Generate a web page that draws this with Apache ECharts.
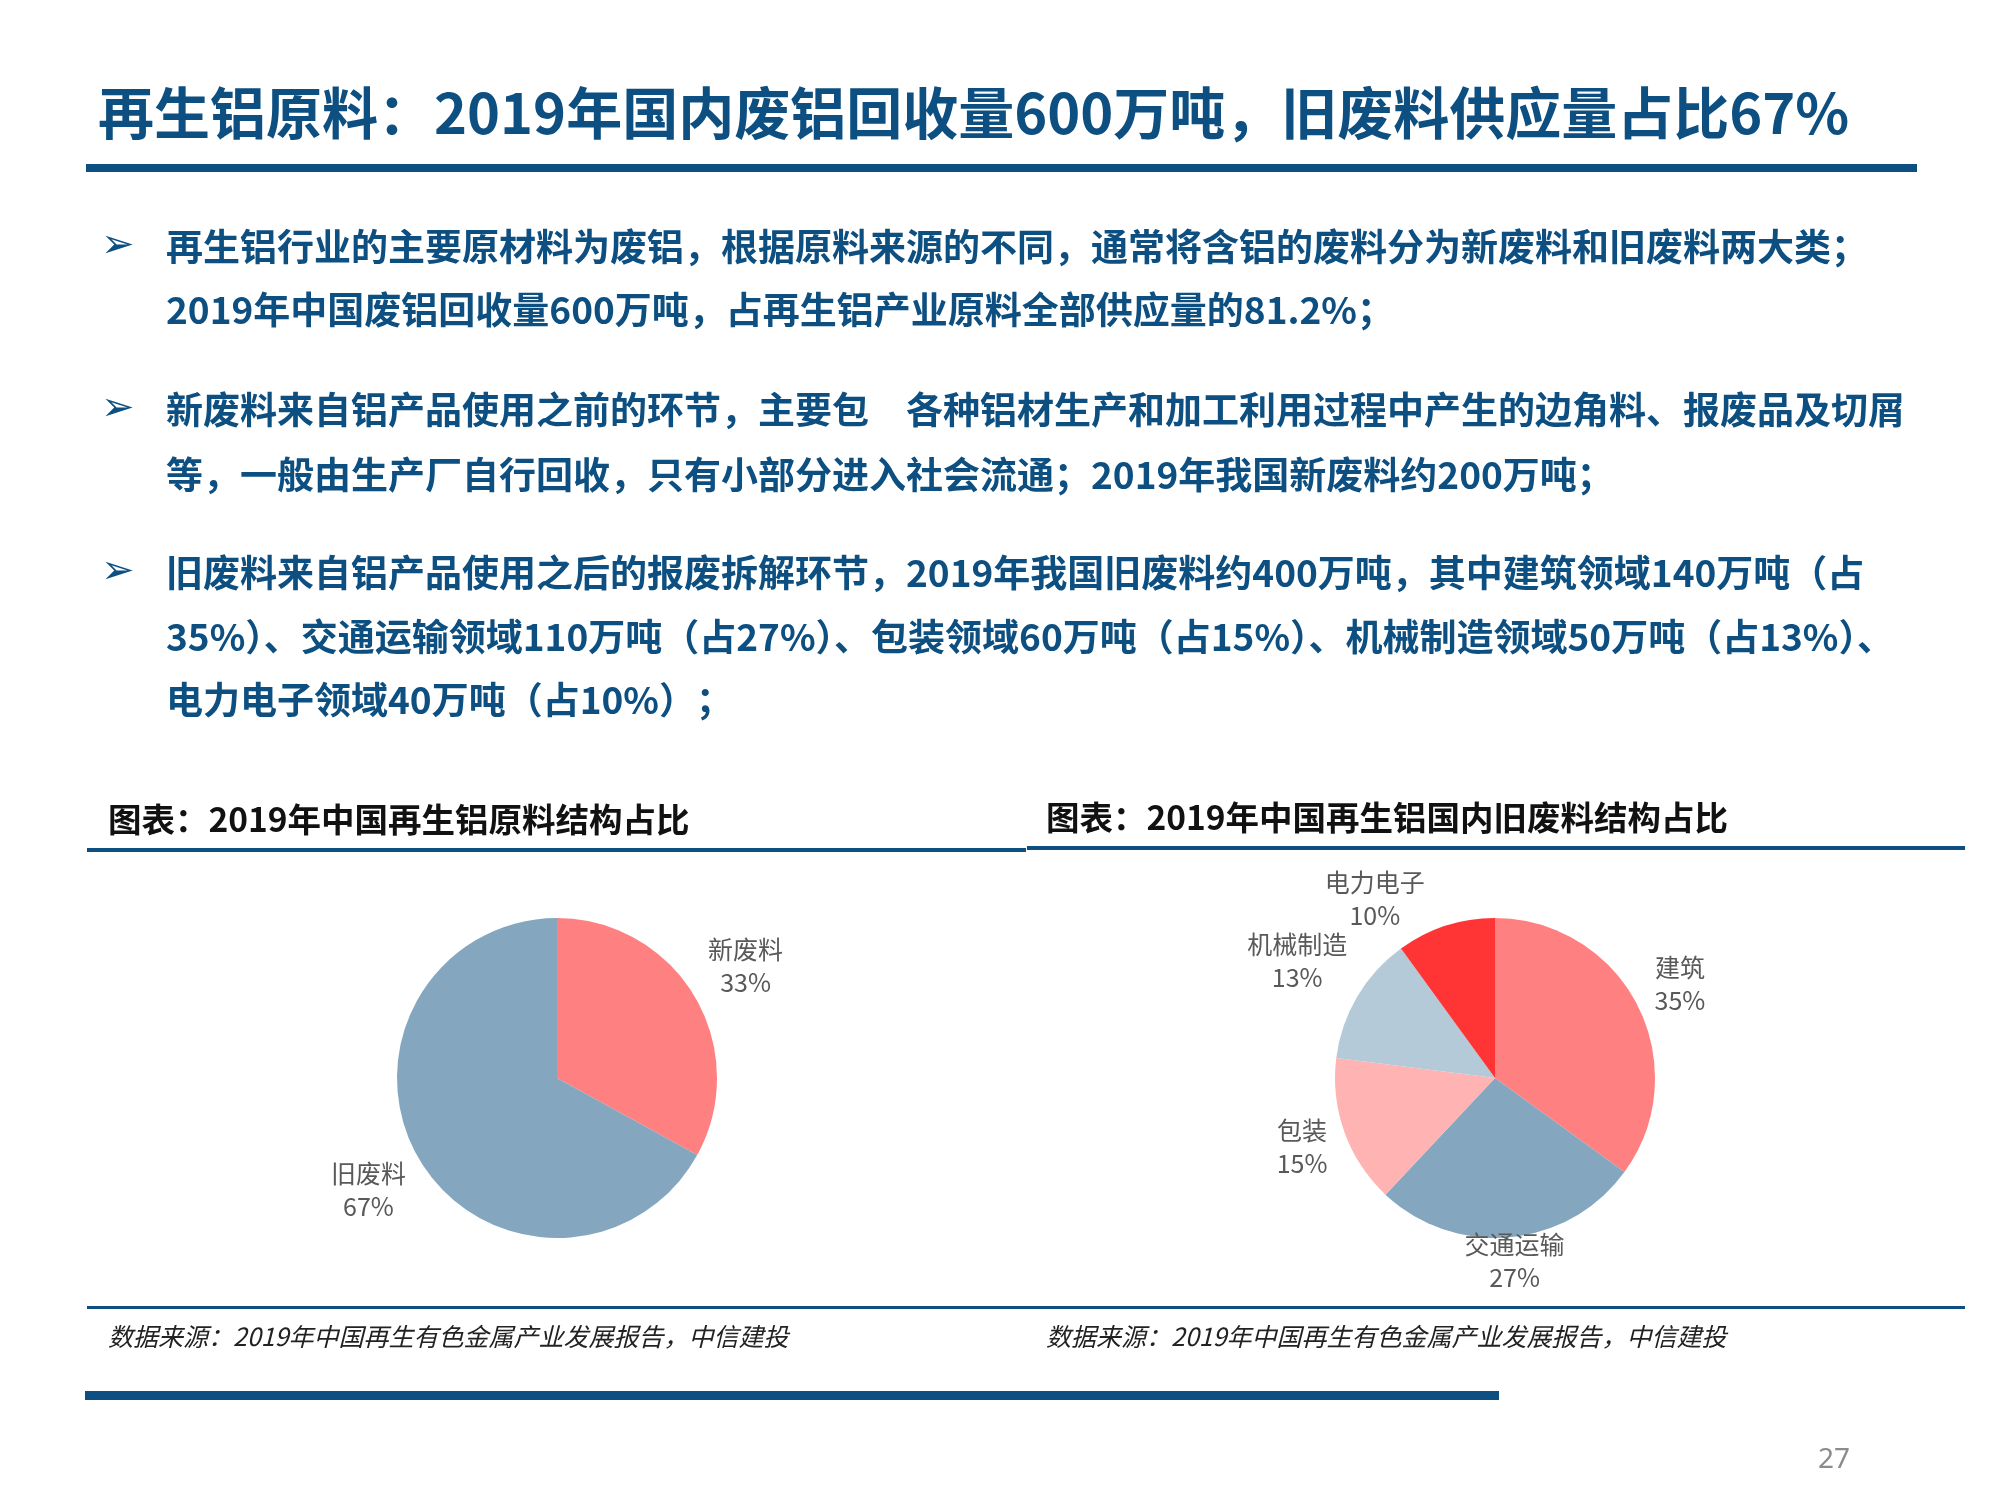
<!DOCTYPE html>
<html>
<head>
<meta charset="utf-8">
<script src="https://cdn.jsdelivr.net/npm/echarts@6/dist/echarts.min.js"></script>
<style>
html, body { margin: 0; padding: 0; background: #fff; }
#main { width: 2000px; height: 1500px; }
</style>
</head>
<body>
<div id="main"></div>
<script>
// 数据：再生铝原料结构（%）
var rawNames = ['新废料', '旧废料'];
var rawShare = [33, 67];
// 数据：国内旧废料结构（%）
var oldNames = ['建筑', '交通运输', '包装', '机械制造', '电力电子'];
var oldShare = [35, 27, 15, 13, 10];

var rawColors = ['#FF8080', '#84A7BF'];
var oldColors = ['#FF8080', '#84A7BF', '#FFB3B3', '#B5CAD8', '#FF3535'];

var titleText = '再生铝原料：2019年国内废铝回收量600万吨，旧废料供应量占比67%';
var bulletLines = [
    ['再生铝行业的主要原材料为废铝，根据原料来源的不同，通常将含铝的废料分为新废料和旧废料两大类；',
     '2019年中国废铝回收量600万吨，占再生铝产业原料全部供应量的81.2%；'],
    ['新废料来自铝产品使用之前的环节，主要包　各种铝材生产和加工利用过程中产生的边角料、报废品及切屑',
     '等，一般由生产厂自行回收，只有小部分进入社会流通；2019年我国新废料约200万吨；'],
    ['旧废料来自铝产品使用之后的报废拆解环节，2019年我国旧废料约400万吨，其中建筑领域140万吨（占',
     '35%）、交通运输领域110万吨（占27%）、包装领域60万吨（占15%）、机械制造领域50万吨（占13%）、',
     '电力电子领域40万吨（占10%）；']
];
var chartTitles = ['图表：2019年中国再生铝原料结构占比', '图表：2019年中国再生铝国内旧废料结构占比'];
var sourceText = '数据来源：2019年中国再生有色金属产业发展报告，中信建投';

var blue = '#0C4F80';
var cjk = '"Noto Sans CJK SC", "Noto Sans", sans-serif';
var pieY = 1078, pieR = 160;

var myChart = echarts.init(document.getElementById('main'));

function toData(names, vals) {
    return names.map(function (n, i) { return { name: n, value: vals[i] }; });
}

// 标签放在扇区中线方向、紧贴饼外侧（类似 Excel 的“数据标签外”），上下不越过图区
function outsideEnd(cx) {
    return function (p) {
        var rc = p.labelRect;
        var w = rc.width, h = rc.height;
        var mx = rc.x + w / 2, my = rc.y + h / 2;
        var ux = mx - cx, uy = my - pieY;
        var len = Math.sqrt(ux * ux + uy * uy) || 1;
        ux /= len; uy /= len;
        var ext = Math.abs(ux) * w / 2 + Math.abs(uy) * h / 2;
        var d = pieR + 10 + ext;
        var x = cx + ux * d, y = pieY + uy * d;
        if (y + h / 2 > 1294) y = 1294 - h / 2;
        if (y - h / 2 < 866) {
            // 顶部被压住时，横向让开饼图
            y = 866 + h / 2;
            var dy = pieY - (y + h / 2);
            var rr = pieR + 2;
            if (dy < rr) {
                var half = Math.sqrt(rr * rr - dy * dy);
                x = ux < 0 ? Math.min(x, cx - half - w / 2) : Math.max(x, cx + half + w / 2);
            }
        }
        return { x: x, y: y, align: 'center', verticalAlign: 'middle' };
    };
}

function pieSeries(names, vals, colors, cx) {
    var data = toData(names, vals);
    return [{
        type: 'pie',
        silent: true,
        center: [cx, pieY],
        radius: [0, pieR],
        startAngle: 90,
        clockwise: true,
        color: colors,
        label: { show: false },
        labelLine: { show: false },
        data: data
    }, {
        // 透明环，只负责标签
        type: 'pie',
        silent: true,
        center: [cx, pieY],
        radius: [197, 223],
        startAngle: 90,
        clockwise: true,
        itemStyle: { color: 'rgba(0,0,0,0)' },
        label: {
            show: true,
            position: 'inside',
            color: '#595959',
            fontFamily: cjk,
            fontSize: 25,
            lineHeight: 33,
            textBorderWidth: 0,
            formatter: function (p) { return p.name + '\n' + Math.round(p.percent) + '%'; }
        },
        labelLayout: outsideEnd(cx),
        labelLine: { show: false },
        data: data
    }];
}

var graphics = [];
function addText(txt, x, y, size, opts) {
    opts = opts || {};
    graphics.push({
        type: 'text', x: x, y: y, silent: true,
        style: {
            text: txt,
            fill: opts.fill || blue,
            fontFamily: opts.family || cjk,
            fontSize: size,
            fontWeight: opts.weight || 'bold',
            fontStyle: opts.style || 'normal',
            verticalAlign: 'middle',
            align: 'left'
        }
    });
}
function addRect(x, y, w, h) {
    graphics.push({ type: 'rect', silent: true, shape: { x: x, y: y, width: w, height: h }, style: { fill: blue } });
}

addText(titleText, 98, 113, 56);
addRect(86, 164, 1831, 8);

var lineY = [[247, 310], [410, 475], [573, 637, 700]];
bulletLines.forEach(function (lines, i) {
    addText('➢', 101, lineY[i][0], 40, { family: '"DejaVu Sans", sans-serif', weight: 'normal' });
    lines.forEach(function (t, j) {
        addText(t, 166, lineY[i][j], 37);
    });
});

addText(chartTitles[0], 108, 819, 33.5, { fill: '#111' });
addText(chartTitles[1], 1046, 817, 33.5, { fill: '#111' });
addRect(87, 848, 939, 4);
addRect(1027, 846, 938, 4);

addRect(87, 1306, 1878, 3);
addText(sourceText, 108, 1336, 25, { fill: '#222', weight: 'normal', style: 'italic' });
addText(sourceText, 1046, 1336, 25, { fill: '#222', weight: 'normal', style: 'italic' });

addRect(85, 1391, 1414, 9);
addText('27', 1818, 1460, 28, { fill: '#8C8C8C', weight: 'normal', family: '"Noto Sans", sans-serif' });

var option = {
    backgroundColor: '#fff',
    animation: false,
    graphic: graphics,
    series: pieSeries(rawNames, rawShare, rawColors, 557)
        .concat(pieSeries(oldNames, oldShare, oldColors, 1495))
};
myChart.setOption(option);
</script>
</body>
</html>
